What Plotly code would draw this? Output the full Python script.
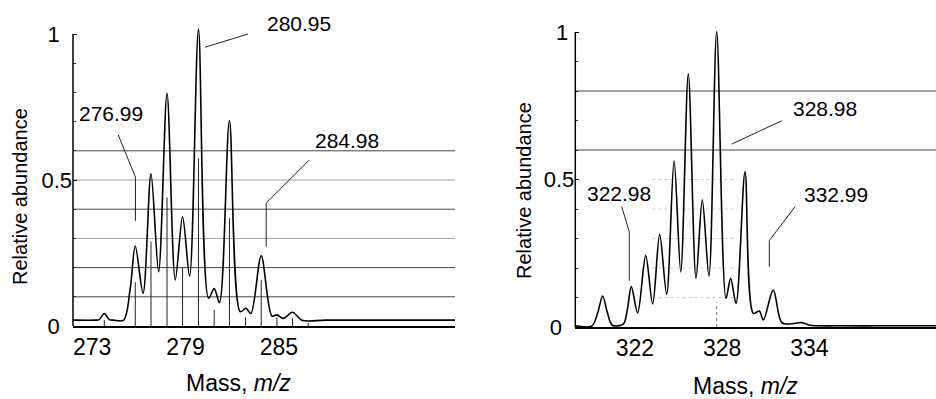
import plotly.graph_objects as go

# ---------------- data: left spectrum ----------------
left_mass = [271.77, 273.20, 273.45, 273.78, 274.10, 274.38, 275.02, 275.45, 275.77, 276.27,
             276.78, 277.27, 277.81, 278.34, 278.81, 279.26, 279.83, 280.48, 280.84, 281.18,
             281.82, 282.51, 282.88, 283.20, 283.86, 284.55, 284.87, 285.29, 285.87, 286.47,
             288.0, 291.0, 294.0, 296.31]
left_abund = [0.020, 0.020, 0.022, 0.043, 0.022, 0.020, 0.020, 0.130, 0.274, 0.112,
              0.521, 0.186, 0.797, 0.158, 0.374, 0.171, 1.016, 0.095, 0.128, 0.080,
              0.703, 0.049, 0.061, 0.043, 0.240, 0.034, 0.038, 0.026, 0.047, 0.020,
              0.020, 0.020, 0.020, 0.020]
left_stick_mass = [273.78, 275.77, 276.78, 277.81, 278.81, 279.83, 280.84, 281.82, 282.85,
                   283.86, 284.87, 285.87, 286.88]
left_stick_abund = [0.02, 0.15, 0.29, 0.44, 0.20, 0.574, 0.055, 0.369, 0.03, 0.158, 0.03, 0.027, 0.01]
left_ticks = [273, 279, 285]
left_grid = [0.1, 0.2, 0.3, 0.4, 0.5, 0.6]
left_labels = ["276.99", "280.95", "284.98"]
left_label_x = [274.23, 286.31, 289.36]
left_label_y = [0.728, 1.037, 0.637]
left_leader_x = [[274.68, 275.78, 275.78], [280.26, 283.02], [286.94, 284.18, 284.18]]
left_leader_y = [[0.654, 0.510, 0.360], [0.955, 1.000], [0.568, 0.421, 0.271]]

# ---------------- data: right spectrum ----------------
right_mass = [317.90, 319.05, 319.45, 319.78, 320.10, 320.45, 321.20, 321.48, 321.75, 322.19,
              322.74, 323.22, 323.70, 324.18, 324.69, 325.15, 325.67, 326.20, 326.63, 327.09,
              327.62, 328.26, 328.58, 328.95, 329.57, 330.14, 330.55, 330.83, 331.51, 332.09,
              332.66, 333.47, 334.04, 336.0, 339.0, 342.70]
right_abund = [0.004, 0.004, 0.050, 0.105, 0.050, 0.006, 0.010, 0.060, 0.137, 0.048,
               0.242, 0.078, 0.314, 0.111, 0.563, 0.187, 0.858, 0.165, 0.431, 0.173,
               1.001, 0.097, 0.165, 0.080, 0.526, 0.046, 0.054, 0.024, 0.125, 0.015,
               0.010, 0.015, 0.006, 0.004, 0.004, 0.004]
right_stick_mass = [327.62]
right_stick_abund = [0.085]
right_ticks = [322, 328, 334]
right_grid = [0.6, 0.8]
right_faint_grid = [0.1, 0.2, 0.3, 0.4, 0.5]
right_faint_span = [323.2, 329.0]
right_labels = ["322.98", "328.98", "332.99"]
right_label_x = [320.90, 335.07, 335.83]
right_label_y = [0.454, 0.739, 0.448]
right_leader_x = [[321.09, 321.61, 321.61], [328.65, 332.09], [333.01, 331.24, 331.24]]
right_leader_y = [[0.408, 0.323, 0.157], [0.620, 0.699], [0.408, 0.293, 0.204]]

y_ticks = [0, 0.5, 1]
y_minor_ticks = [0.1, 0.2, 0.3, 0.4, 0.6, 0.7, 0.8, 0.9]

FONT = "Liberation Sans, Arial, sans-serif"
W, H = 936, 399
LTOP = 1.11   # y range top of left panel
RTOP = 1.10


def joined(xs_list, ys_list):
    xs, ys = [], []
    for a, b in zip(xs_list, ys_list):
        xs += list(a) + [None]
        ys += list(b) + [None]
    return xs, ys


def sticks(ms, hs):
    xs, ys = [], []
    for m, h in zip(ms, hs):
        xs += [m, m, None]
        ys += [0, h, None]
    return xs, ys


fig = go.Figure()

sx, sy = sticks(left_stick_mass, left_stick_abund)
fig.add_trace(go.Scatter(x=sx, y=sy, mode="lines", line=dict(color="#222", width=1),
                         xaxis="x", yaxis="y", hoverinfo="skip"))
sx, sy = sticks(right_stick_mass, right_stick_abund)
fig.add_trace(go.Scatter(x=sx, y=sy, mode="lines", line=dict(color="#777", width=1, dash="dot"),
                         xaxis="x2", yaxis="y2", hoverinfo="skip"))

fx, fy = joined([right_faint_span] * len(right_faint_grid), [[g, g] for g in right_faint_grid])
fig.add_trace(go.Scatter(x=fx, y=fy, mode="lines", line=dict(color="#d0d0d0", width=1, dash="dot"),
                         xaxis="x2", yaxis="y2", hoverinfo="skip"))

fig.add_trace(go.Scatter(x=left_mass, y=left_abund, mode="lines",
                         line=dict(color="black", width=1.6, shape="spline", smoothing=0.9),
                         xaxis="x", yaxis="y"))
fig.add_trace(go.Scatter(x=right_mass, y=right_abund, mode="lines",
                         line=dict(color="black", width=1.6, shape="spline", smoothing=0.9),
                         xaxis="x2", yaxis="y2"))

lx, ly = joined(left_leader_x, left_leader_y)
fig.add_trace(go.Scatter(x=lx, y=ly, mode="lines", line=dict(color="#222", width=1),
                         xaxis="x", yaxis="y", hoverinfo="skip"))
rx, ry = joined(right_leader_x, right_leader_y)
fig.add_trace(go.Scatter(x=rx, y=ry, mode="lines", line=dict(color="#222", width=1),
                         xaxis="x2", yaxis="y2", hoverinfo="skip"))

shapes = []
for g in left_grid:
    col = "#a0a0a0" if g in (0.3, 0.5) else "#444"
    shapes.append(dict(type="line", xref="x domain", yref="y", x0=0, x1=1, y0=g, y1=g,
                       line=dict(color=col, width=1), layer="below"))
for g in right_grid:
    shapes.append(dict(type="line", xref="x2 domain", yref="y2", x0=0, x1=1, y0=g, y1=g,
                       line=dict(color="#444", width=1), layer="below"))
shapes.append(dict(type="line", xref="x domain", yref="y", x0=0, x1=0, y0=0, y1=1,
                   line=dict(color="black", width=1.5)))
shapes.append(dict(type="line", xref="x2 domain", yref="y2", x0=0, x1=0, y0=0, y1=1,
                   line=dict(color="black", width=1.5)))

annotations = []
for t, x, y in zip(left_labels, left_label_x, left_label_y):
    annotations.append(dict(text=t, x=x, y=y, xref="x", yref="y", showarrow=False,
                            xanchor="center", yanchor="middle",
                            font=dict(size=21, color="black", family=FONT)))
for t, x, y in zip(right_labels, right_label_x, right_label_y):
    annotations.append(dict(text=t, x=x, y=y, xref="x2", yref="y2", showarrow=False,
                            xanchor="center", yanchor="middle",
                            font=dict(size=21, color="black", family=FONT)))
for (px, py) in [(20, 197), (524, 191)]:
    annotations.append(dict(text="Relative abundance", x=px / W, y=1 - py / H, xref="paper",
                            yref="paper", textangle=-90, showarrow=False,
                            xanchor="center", yanchor="middle",
                            font=dict(size=20, color="black", family=FONT)))
for (px, py) in [(239, 383), (745, 386)]:
    annotations.append(dict(text="Mass, <i>m/z</i>", x=px / W, y=1 - py / H, xref="paper",
                            yref="paper", showarrow=False, xanchor="center", yanchor="middle",
                            font=dict(size=23, color="black", family=FONT)))

ax_common = dict(showgrid=False, zeroline=False, showline=True, linecolor="black", linewidth=1.5,
                 ticks="", automargin=False, tickfont=dict(size=23, color="black", family=FONT))
left_ytext = ["0\u00a0\u00a0", "0.5", "1\u00a0\u00a0"]
right_ytext = ["0\u00a0\u00a0", "0.5", "1\u00a0"]
y_common = dict(showgrid=False, zeroline=False, showline=False, ticks="inside", ticklen=4,
                tickcolor="black", automargin=False,
                minor=dict(ticks="inside", ticklen=3, tickvals=y_minor_ticks, tickcolor="#333"),
                tickfont=dict(size=22, color="black", family=FONT))

fig.update_layout(
    width=W, height=H, margin=dict(l=0, r=0, t=0, b=0, autoexpand=False),
    paper_bgcolor="white", plot_bgcolor="white", showlegend=False,
    font=dict(family=FONT, color="black"),
    xaxis=dict(domain=[73 / W, 455 / W], range=[271.77, 296.31], anchor="y",
               tickvals=left_ticks, **ax_common),
    yaxis=dict(domain=[1 - 326 / H, 1 - (326 - 292 * LTOP) / H], range=[0, LTOP], anchor="x",
               tickvals=y_ticks, ticktext=left_ytext, **y_common),
    xaxis2=dict(domain=[575.3 / W, 1], range=[317.90, 342.70], anchor="y2",
                tickvals=right_ticks, **ax_common),
    yaxis2=dict(domain=[1 - 327 / H, 1 - (327 - 295 * RTOP) / H], range=[0, RTOP], anchor="x2",
                tickvals=y_ticks, ticktext=right_ytext, **y_common),
    shapes=shapes, annotations=annotations,
)

fig.write_html("out.html", config={"displayModeBar": False},
               post_script="document.body.style.margin='0';document.body.style.overflow='hidden';")
